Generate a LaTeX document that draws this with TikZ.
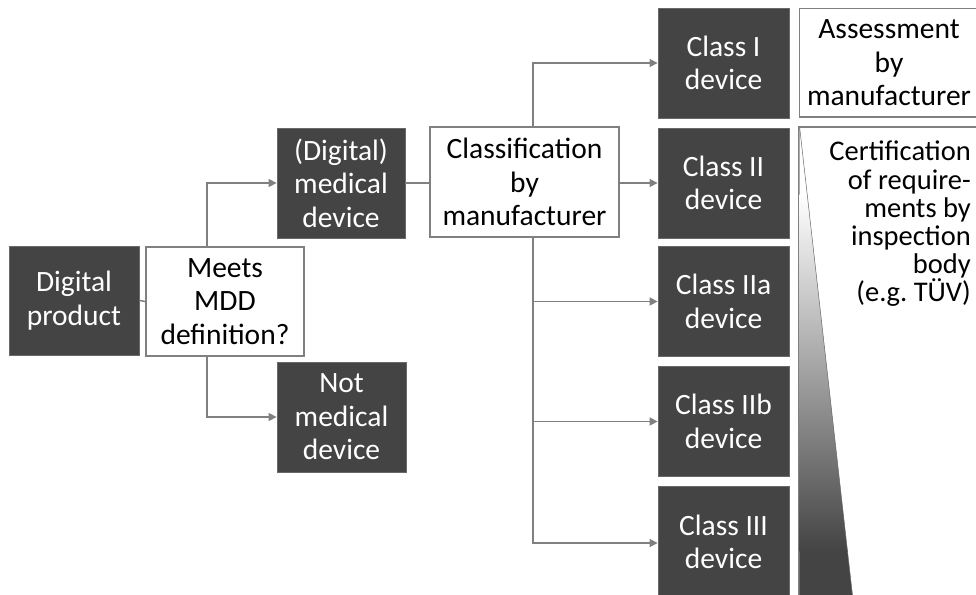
\documentclass[tikz,border=0pt]{standalone}
\usepackage{fontspec}
\setmainfont{Carlito}
\usetikzlibrary{arrows.meta}
\definecolor{darkbox}{HTML}{444444}
\definecolor{linegray}{HTML}{808080}
\begin{document}
\begin{tikzpicture}[x=1pt,y=-1pt,
  dbox/.style={rectangle, fill=darkbox, draw=darkbox!80!white, line width=0.8pt, text=white, align=center,
    inner sep=0pt, font=\fontsize{29.5}{33.5}\selectfont},
  wbox/.style={rectangle, fill=white, draw=linegray, line width=1.3pt, text=black, align=center,
    inner sep=0pt, font=\fontsize{29.5}{33.5}\selectfont},
  conn/.style={draw=linegray, line width=1.5pt},
  arr/.style={conn, -{Triangle[length=8pt,width=8pt]}}
]
\useasboundingbox (0,0) rectangle (976,594);
% left part
\node[dbox, minimum width=130pt, minimum height=109pt] (dp) at (74,300.5) {Digital\\product};
\node[wbox, minimum width=158pt, minimum height=109pt] (mdd) at (225,301.5) {Meets\\MDD\\definition?};
\node[dbox, minimum width=128pt, minimum height=110pt] (dmd) at (341,183) {(Digital)\\medical\\device};
\node[dbox, minimum width=129pt, minimum height=110pt] (nmd) at (341.5,417) {Not\\medical\\device};
\node[wbox, minimum width=189pt, minimum height=110pt] (cls) at (524.5,182) {Classification\\by\\manufacturer};
% class boxes
\node[dbox, minimum width=131pt, minimum height=110pt] (c1) at (723.5,63) {Class I\\device};
\node[dbox, minimum width=131pt, minimum height=110pt] (c2) at (723.5,183) {Class II\\device};
\node[dbox, minimum width=131pt, minimum height=110pt] (c2a) at (723.5,301.5) {Class IIa\\device};
\node[dbox, minimum width=131pt, minimum height=110pt] (c2b) at (723.5,421.5) {Class IIb\\device};
\node[dbox, minimum width=131pt, minimum height=112pt] (c3) at (723.5,542) {Class III\\device};
% right boxes
\node[wbox, draw=none, minimum width=178pt, minimum height=108pt] (asm) at (889,63) {Assessment\\by\\manufacturer};
\draw[draw=linegray, line width=1.3pt] (asm.north west) rectangle (990,117);
\draw[draw=linegray, line width=1.3pt] (990,127) -- (799,127) -- (799,600);
\begin{scope}
  \clip (799.7,128) -- (853,600) -- (799.7,600) -- cycle;
  \fill[white] (799,128) rectangle (860,195);
  \shade[top color=white, bottom color=darkbox] (799,194) rectangle (860,551);
  \fill[darkbox] (799,550) rectangle (860,600);
\end{scope}
\draw[draw=black!60, line width=0.5pt] (799.7,128) -- (853,600);
\node[anchor=north east, align=right, inner sep=0pt, font=\fontsize{28.5}{28.2}\selectfont] (cert) at (971,141)
  {Certification\\of require-\\ments by\\inspection\\body\\(e.g.~TÜV)};
% connectors
\draw[conn] (dp.east) -- (mdd.west);
\draw[arr] ([xshift=-18pt]mdd.north) |- (dmd.west);
\draw[arr] ([xshift=-18pt]mdd.south) |- (nmd.west);
\draw[conn] (dmd.east) -- (cls.west |- dmd.east);
\draw[arr] ([xshift=8.5pt]cls.north) |- (c1.west);
\draw[arr] (cls.east |- c2.west) -- (c2.west);
\draw[arr] ([xshift=8.5pt]cls.south) |- (c2a.west);
\draw[arr] ([xshift=8.5pt]cls.south) |- (c2b.west);
\draw[arr] ([xshift=8.5pt]cls.south) |- ([yshift=-1pt]c3.west);
\end{tikzpicture}
\end{document}
